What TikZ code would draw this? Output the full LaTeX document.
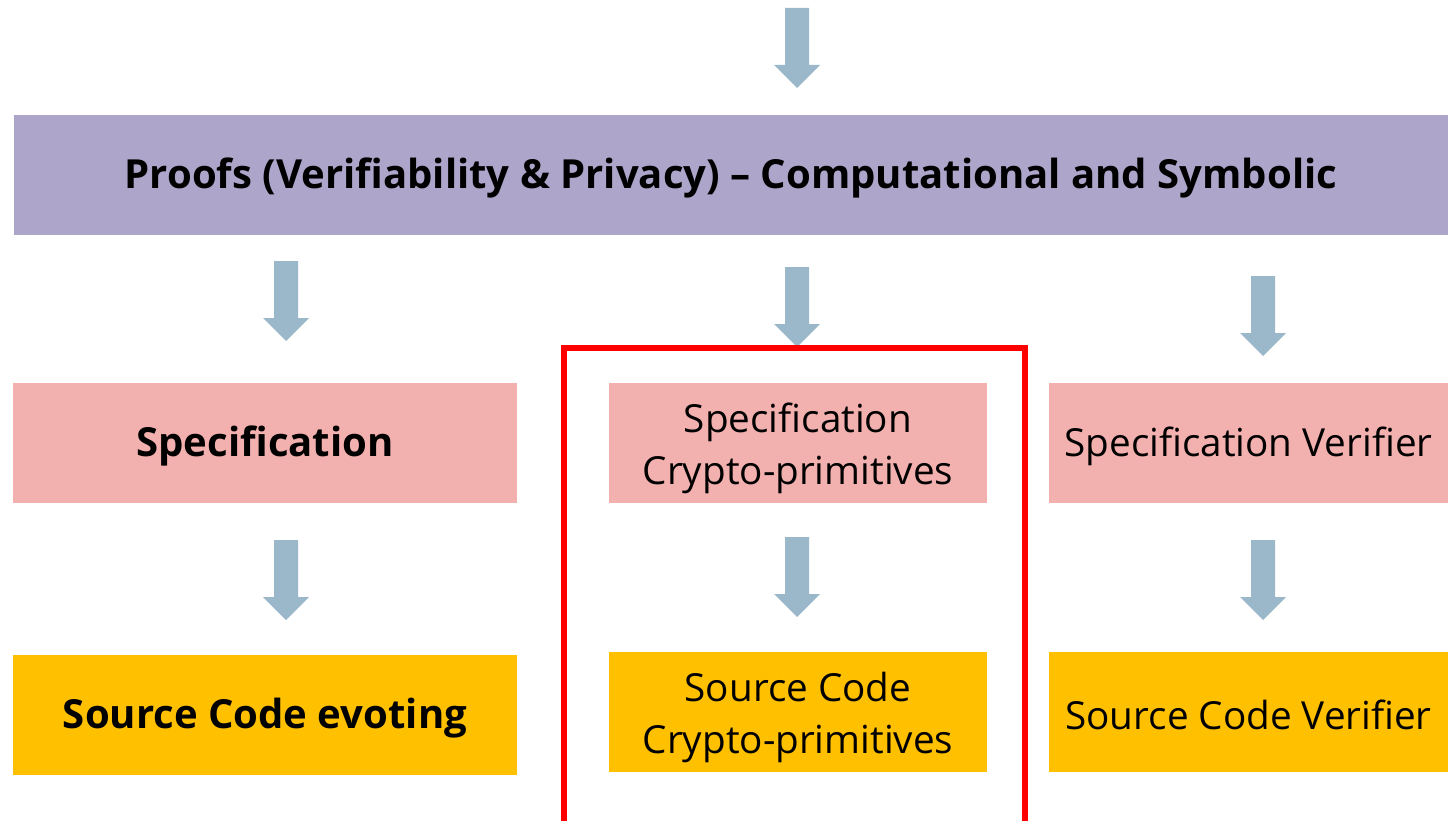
\documentclass[tikz,border=0pt]{standalone}
\usepackage{fontspec}
\setmainfont{Open Sans}
\definecolor{proofcol}{HTML}{ADA5CA}
\definecolor{speccol}{HTML}{F2B0AE}
\definecolor{codecol}{HTML}{FFC000}
\definecolor{arrowcol}{HTML}{9BB7CA}
\definecolor{framecol}{HTML}{FF0000}
\tikzset{
  box/.style={inner sep=0pt, align=center, text=black,
    font=\fontsize{22}{29.5}\selectfont, minimum height=2.4cm,
    execute at begin node={\rule{0pt}{20.5pt}}},
  boldbox/.style={box, font=\fontsize{22.8}{29.5}\selectfont\bfseries},
  twotext/.style={inner sep=0pt, align=center, text=black,
    font=\fontsize{22}{29.5}\selectfont, yshift=-3pt},
  downarrow/.pic={
    \fill[arrowcol] (-12,0) -- (12,0) -- (12,57) -- (23,57) -- (0,80)
      -- (-23,57) -- (-12,57) -- cycle;
  }
}
\begin{document}
\begin{tikzpicture}[x=0.02cm,y=-0.02cm]
\useasboundingbox (0,0) rectangle (1448,821);

% top banner
\node[boldbox, fill=proofcol, minimum width=28.68cm] (proofs) at (731,175)
  {Proofs (Verifiability \& Privacy) -- Computational and Symbolic};

% specification row
\node[boldbox, fill=speccol, minimum width=10.08cm] (spec) at (265,443) {Specification};
\node[box, fill=speccol, minimum width=7.56cm] (speccp) at (798,443) {};
\node[twotext] (speccp-text) at (speccp.center) {Specification\\Crypto-primitives};
\node[box, fill=speccol, minimum width=7.98cm] (specver) at (1248.5,443) {Specification Verifier};

% source code row
\node[boldbox, fill=codecol, minimum width=10.08cm] (code) at (265,715) {Source Code evoting};
\node[box, fill=codecol, minimum width=7.56cm] (codecp) at (798,712) {};
\node[twotext] (codecp-text) at (codecp.center) {Source Code\\Crypto-primitives};
\node[box, fill=codecol, minimum width=7.98cm] (codever) at (1248.5,712) {Source Code Verifier};

% block arrows
\coordinate (a0) at (797,8);
\coordinate (a1) at (286,261);
\coordinate (a2) at (797,267);
\coordinate (a3) at (1263,276);
\coordinate (b1) at (286,540);
\coordinate (b2) at (797,537);
\coordinate (b3) at (1263,540);
\foreach \c in {a0,a1,a2,a3,b1,b2,b3} \pic at (\c) {downarrow};

% highlight frame around the crypto-primitives column
\coordinate (fbl) at (564,835);
\coordinate (ftl) at (564,348);
\coordinate (ftr) at (1025,348);
\coordinate (fbr) at (1025,835);
\draw[framecol, line width=0.12cm] (fbl) -- (ftl) -- (ftr) -- (fbr);
\end{tikzpicture}
\end{document}
